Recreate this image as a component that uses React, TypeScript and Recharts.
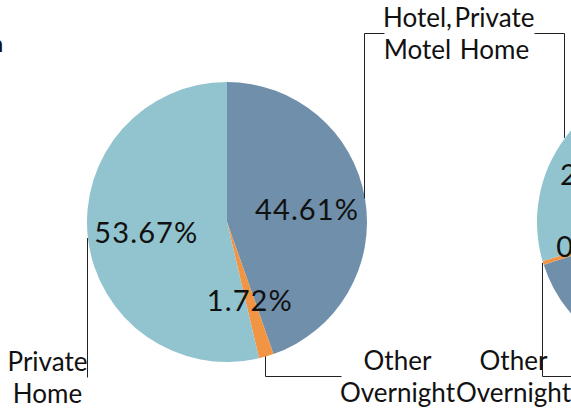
import React from "react";
import { PieChart, Pie, Cell } from "recharts";

const categories = ["Hotel, Motel", "Other Overnight", "Private Home"];
const leftShares = [44.61, 1.72, 53.67];
const rightShares = [70.05, 0.46, 29.49];
const colors = ["#6F8FAA", "#F19545", "#92C4CF"];

const FONT = "Lato, 'Noto Sans', sans-serif";
const RADIUS = 140;
const RAD = Math.PI / 180;

type Leader = { elbowY: number; run: number; textDx: number; baseline: number };

// leader line layouts (Excel-style callouts) per category
const leftLeaders: Record<string, Leader> = {
  "Hotel, Motel": { elbowY: 33, run: 20, textDx: 53, baseline: 27 },
  "Other Overnight": { elbowY: 376, run: 76, textDx: 132, baseline: 370 },
  "Private Home": { elbowY: 377, run: 0, textDx: -40, baseline: 371 },
};
const rightLeaders: Record<string, Leader> = {
  "Private Home": { elbowY: 33, run: -30, textDx: -70, baseline: 27 },
  "Other Overnight": { elbowY: 376, run: 40, textDx: -29, baseline: 370 },
};

const toRows = (shares: number[]) =>
  categories.map((name, i) => ({ name, value: shares[i] }));

const makeLabel = (leaders: Record<string, Leader>) => (props: any) => {
  const { cx, cy, midAngle, outerRadius, value, index } = props;
  const name = categories[index];
  const ix = cx + outerRadius * 0.58 * Math.cos(-midAngle * RAD);
  const iy = cy + outerRadius * 0.58 * Math.sin(-midAngle * RAD);
  // snap the leader to the pixel grid so it stays crisp
  const ex = Math.round(cx + outerRadius * Math.cos(-midAngle * RAD)) - 0.5;
  const ey = cy + outerRadius * Math.sin(-midAngle * RAD);
  const l = leaders[name];
  return (
    <g key={`lbl-${index}`}>
      <text
        x={ix}
        y={iy}
        textAnchor="middle"
        dominantBaseline="central"
        fontFamily={FONT}
        fontSize={29}
        letterSpacing={1.1}
        fill="#111"
      >
        {`${Number(value).toFixed(2)}%`}
      </text>
      {l && (
        <>
          <polyline
            points={`${ex},${ey} ${ex},${l.elbowY + 0.5} ${ex + l.run},${l.elbowY + 0.5}`}
            fill="none"
            stroke="#222"
            strokeWidth={1}
          />
          <text
            x={ex + l.textDx}
            y={l.baseline}
            textAnchor="middle"
            fontFamily={FONT}
            fontSize={26}
            fill="#111"
          >
            {name.split(" ").map((w, k) => (
              <tspan key={k} x={ex + l.textDx} dy={k === 0 ? 0 : 32}>
                {w}
              </tspan>
            ))}
          </text>
        </>
      )}
    </g>
  );
};

export default function App() {
  return (
    <div style={{ position: "absolute", left: 0, top: 0, width: 571, height: 409, overflow: "hidden" }}>
      <div
        style={{
          position: "absolute",
          left: -10,
          top: 28,
          fontFamily: FONT,
          fontSize: 24,
          color: "#111",
        }}
      >
        n
      </div>
      <PieChart width={571} height={409} margin={{ top: 0, right: 0, bottom: 0, left: 0 }}>
        <Pie
          data={toRows(leftShares)}
          dataKey="value"
          cx={227}
          cy={222}
          outerRadius={RADIUS}
          startAngle={90}
          endAngle={-270}
          stroke="none"
          labelLine={false}
          label={makeLabel(leftLeaders)}
          isAnimationActive={false}
        >
          {categories.map((c, i) => (
            <Cell key={c} fill={colors[i]} />
          ))}
        </Pie>
        <Pie
          data={toRows(rightShares)}
          dataKey="value"
          cx={677}
          cy={222}
          outerRadius={RADIUS}
          startAngle={90}
          endAngle={-270}
          stroke="none"
          labelLine={false}
          label={makeLabel(rightLeaders)}
          isAnimationActive={false}
        >
          {categories.map((c, i) => (
            <Cell key={c} fill={colors[i]} />
          ))}
        </Pie>
      </PieChart>
    </div>
  );
}
